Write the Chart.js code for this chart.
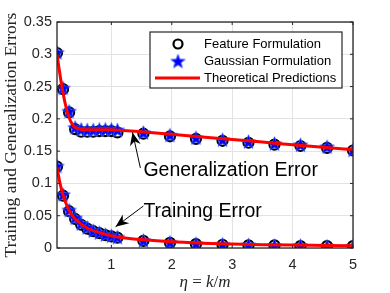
<!DOCTYPE html>
<html>
<head>
<meta charset="utf-8">
<script src="https://cdn.jsdelivr.net/npm/chart.js@4.4.0/dist/chart.umd.min.js"></script>
<style>
body { margin: 0; background: #fff; }
</style>
</head>
<body>
<canvas id="errChart" width="390" height="293"></canvas>
<script>
// sample points (markers)
const etaPoints = [0.1, 0.2, 0.3, 0.4, 0.5, 0.6, 0.7, 0.8, 0.9, 1.0, 1.1, 1.53, 1.97, 2.4, 2.84, 3.27, 3.7, 4.13, 4.57, 5];
const genGaussian = [0.303, 0.248, 0.212, 0.187, 0.184, 0.183, 0.183, 0.184, 0.184, 0.184, 0.183, 0.179, 0.175, 0.171, 0.168, 0.165, 0.162, 0.160, 0.157, 0.152];
const genFeature = [0.302, 0.246, 0.210, 0.184, 0.180, 0.180, 0.180, 0.181, 0.181, 0.181, 0.179, 0.177, 0.173, 0.169, 0.166, 0.163, 0.160, 0.158, 0.155, 0.151];
const trainGaussian = [0.127, 0.083, 0.059, 0.047, 0.038, 0.032, 0.027, 0.024, 0.021, 0.019, 0.017, 0.012, 0.009, 0.007, 0.006, 0.005, 0.004, 0.004, 0.003, 0.003];
const trainFeature = [0.126, 0.081, 0.057, 0.045, 0.036, 0.030, 0.026, 0.023, 0.020, 0.018, 0.016, 0.011, 0.008, 0.006, 0.005, 0.004, 0.004, 0.003, 0.003, 0.003];

// theory curves
const etaTheory = [0.1, 0.15, 0.2, 0.25, 0.3, 0.35, 0.4, 0.5, 0.6, 0.8, 1.0, 1.2, 1.5, 2, 2.5, 3, 3.5, 4, 4.5, 5];
const genTheory = [0.300, 0.268, 0.240, 0.218, 0.202, 0.192, 0.187, 0.184, 0.183, 0.183, 0.183, 0.182, 0.180, 0.176, 0.172, 0.168, 0.164, 0.160, 0.156, 0.152];
const trainTheory = [0.125, 0.100, 0.082, 0.069, 0.058, 0.051, 0.045, 0.037, 0.031, 0.024, 0.019, 0.016, 0.013, 0.0095, 0.0075, 0.0062, 0.0052, 0.0045, 0.004, 0.0035];

const xTicks = [1, 2, 3, 4, 5];
const yTicks = [0, 0.05, 0.1, 0.15, 0.2, 0.25, 0.3, 0.35];
const yTickLabels = ['0', '0.05', '0.1', '0.15', '0.2', '0.25', '0.3', '0.35'];
const seriesNames = ['Feature Formulation', 'Gaussian Formulation', 'Theoretical Predictions'];

const toXY = (xs, ys) => xs.map((x, i) => ({x: x, y: ys[i]}));

// filled 5 point star for the gaussian markers
const makeStar = (r) => {
    const c = document.createElement('canvas');
    const s = Math.ceil(r * 2 + 2);
    c.width = s; c.height = s;
    const g = c.getContext('2d');
    g.translate(s / 2, s / 2 + 0.8);
    g.beginPath();
    for (let i = 0; i < 10; i++) {
        const rad = i % 2 === 0 ? r : r * 0.42;
        const a = -Math.PI / 2 + i * Math.PI / 5;
        g.lineTo(rad * Math.cos(a), rad * Math.sin(a));
    }
    g.closePath();
    g.fillStyle = '#0000ff';
    g.fill();
    g.strokeStyle = '#3b5bff';
    g.lineWidth = 0.8;
    g.stroke();
    return c;
};
const starImg = makeStar(7.5);

const drawArrow = (ctx, x0, y0, x1, y1) => {
    ctx.beginPath();
    ctx.moveTo(x0, y0);
    ctx.lineTo(x1, y1);
    ctx.stroke();
    const a = Math.atan2(y1 - y0, x1 - x0);
    const L = 13, W = 5.5;
    ctx.save();
    ctx.translate(x1, y1);
    ctx.rotate(a);
    ctx.beginPath();
    ctx.moveTo(0, 0);
    ctx.lineTo(-L, -W);
    ctx.lineTo(-L * 0.7, 0);
    ctx.lineTo(-L, W);
    ctx.closePath();
    ctx.fill();
    ctx.restore();
};

const decor = {
    id: 'decor',
    afterDraw(chart) {
        const ctx = chart.ctx;
        const {left, right, top, bottom} = chart.chartArea;
        const xs = chart.scales.x, ys = chart.scales.y;
        ctx.save();

        // box + inward ticks
        ctx.strokeStyle = '#262626';
        ctx.lineWidth = 1.3;
        ctx.strokeRect(left, top, right - left, bottom - top);
        ctx.lineWidth = 1;
        xTicks.forEach(v => {
            const p = xs.getPixelForValue(v);
            ctx.beginPath();
            ctx.moveTo(p, bottom); ctx.lineTo(p, bottom - 3);
            ctx.moveTo(p, top); ctx.lineTo(p, top + 3);
            ctx.stroke();
        });
        yTicks.forEach(v => {
            const p = ys.getPixelForValue(v);
            ctx.beginPath();
            ctx.moveTo(left, p); ctx.lineTo(left + 3, p);
            ctx.moveTo(right, p); ctx.lineTo(right - 3, p);
            ctx.stroke();
        });

        // annotations
        ctx.fillStyle = '#000';
        ctx.strokeStyle = '#000';
        ctx.lineWidth = 1;
        drawArrow(ctx, xs.getPixelForValue(1.48), ys.getPixelForValue(0.124), xs.getPixelForValue(1.35), ys.getPixelForValue(0.179));
        drawArrow(ctx, xs.getPixelForValue(1.53), ys.getPixelForValue(0.065), xs.getPixelForValue(1.07), ys.getPixelForValue(0.033));
        ctx.font = '19.5px "Liberation Sans", Arial, sans-serif';
        ctx.textAlign = 'left';
        ctx.textBaseline = 'alphabetic';
        ctx.fillText('Generalization Error', xs.getPixelForValue(1.53), ys.getPixelForValue(0.112));
        ctx.fillText('Training Error', xs.getPixelForValue(1.53), ys.getPixelForValue(0.048));

        // legend
        const lx = 150, ly = 32, lw = 192, lh = 56;
        ctx.fillStyle = '#fff';
        ctx.fillRect(lx, ly, lw, lh);
        ctx.strokeStyle = '#262626';
        ctx.lineWidth = 1.2;
        ctx.strokeRect(lx, ly, lw, lh);
        const rows = [44, 61, 78];
        ctx.strokeStyle = '#000';
        ctx.lineWidth = 2.2;
        ctx.beginPath();
        ctx.arc(178, rows[0], 4.5, 0, Math.PI * 2);
        ctx.stroke();
        ctx.drawImage(starImg, 178 - starImg.width / 2, rows[1] - starImg.height / 2);
        ctx.strokeStyle = '#ff0000';
        ctx.lineWidth = 3;
        ctx.beginPath();
        ctx.moveTo(155, rows[2]); ctx.lineTo(200, rows[2]);
        ctx.stroke();
        ctx.fillStyle = '#000';
        ctx.font = '13px "Liberation Sans", Arial, sans-serif';
        ctx.textBaseline = 'middle';
        seriesNames.forEach((n, i) => ctx.fillText(n, 204, rows[i] + 0.5));

        // axis titles
        ctx.fillStyle = '#262626';
        ctx.save();
        ctx.translate(16, (top + bottom) / 2);
        ctx.rotate(-Math.PI / 2);
        ctx.textAlign = 'center';
        ctx.textBaseline = 'alphabetic';
        ctx.font = '17.5px "Liberation Serif", "DejaVu Serif", serif';
        ctx.fillText('Training and Generalization Errors', 0, 0);
        ctx.restore();

        const parts = [['η', true], [' = ', false], ['k', true], ['/', false], ['m', true]];
        const it = 'italic 17px "Liberation Serif", serif', up = '17px "Liberation Serif", serif';
        let total = 0;
        parts.forEach(p => { ctx.font = p[1] ? it : up; total += ctx.measureText(p[0]).width; });
        let cx = 205 - total / 2;
        ctx.textAlign = 'left';
        ctx.textBaseline = 'alphabetic';
        parts.forEach(p => {
            ctx.font = p[1] ? it : up;
            ctx.fillText(p[0], cx, 287);
            cx += ctx.measureText(p[0]).width;
        });
        ctx.restore();
    }
};

const tickFont = {family: '"Liberation Sans", Arial, sans-serif', size: 14.5};

new Chart(document.getElementById('errChart'), {
    type: 'scatter',
    data: {
        datasets: [
            {label: 'theory gen', data: toXY(etaTheory, genTheory), showLine: true, borderColor: '#ff0000', borderWidth: 3, pointRadius: 0, cubicInterpolationMode: 'monotone', order: 1},
            {label: 'theory train', data: toXY(etaTheory, trainTheory), showLine: true, borderColor: '#ff0000', borderWidth: 3, pointRadius: 0, cubicInterpolationMode: 'monotone', order: 1},
            {label: 'gauss gen', data: toXY(etaPoints, genGaussian), pointStyle: starImg, order: 2},
            {label: 'gauss train', data: toXY(etaPoints, trainGaussian), pointStyle: starImg, order: 2},
            {label: 'feature gen', data: toXY(etaPoints, genFeature), pointStyle: 'circle', pointRadius: 5, borderColor: '#000', borderWidth: 2.2, backgroundColor: 'rgba(0,0,0,0)', order: 3},
            {label: 'feature train', data: toXY(etaPoints, trainFeature), pointStyle: 'circle', pointRadius: 5, borderColor: '#000', borderWidth: 2.2, backgroundColor: 'rgba(0,0,0,0)', order: 3}
        ]
    },
    options: {
        responsive: false,
        animation: false,
        devicePixelRatio: 1,
        layout: {padding: {top: 22, right: 37, left: 0, bottom: 0}},
        plugins: {legend: {display: false}, tooltip: {enabled: false}},
        scales: {
            x: {
                type: 'linear', min: 0.1, max: 5,
                afterBuildTicks: s => { s.ticks = xTicks.map(v => ({value: v})); },
                afterFit: s => { s.height = 45; },
                grid: {color: '#e3e3e3', lineWidth: 1, drawTicks: false},
                border: {display: false},
                ticks: {font: tickFont, color: '#262626', padding: 8, maxRotation: 0}
            },
            y: {
                min: 0, max: 0.35,
                afterBuildTicks: s => { s.ticks = yTicks.map(v => ({value: v})); },
                afterFit: s => { s.width = 57; },
                grid: {color: '#e3e3e3', lineWidth: 1, drawTicks: false},
                border: {display: false},
                ticks: {font: tickFont, color: '#262626', padding: 5, callback: (v, i) => yTickLabels[i]}
            }
        }
    },
    plugins: [decor]
});
</script>
</body>
</html>
